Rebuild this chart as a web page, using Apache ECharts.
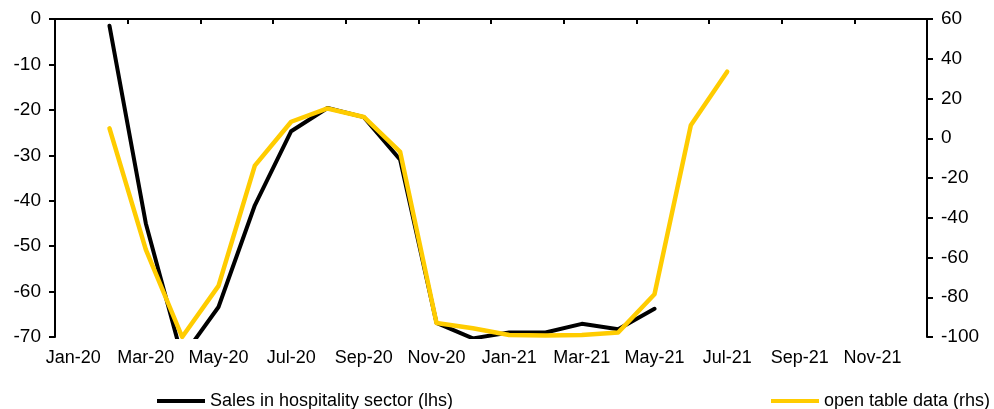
<!DOCTYPE html>
<html>
<head>
<meta charset="utf-8">
<script src="https://cdn.jsdelivr.net/npm/echarts@6/dist/echarts.min.js"></script>
<style>
html,body{margin:0;padding:0;background:#fff;}
#chart{width:994px;height:409px;}
</style>
</head>
<body>
<div id="chart"></div>
<script>
// Monthly categories
var categories = ['Jan-20','Feb-20','Mar-20','Apr-20','May-20','Jun-20','Jul-20','Aug-20','Sep-20','Oct-20','Nov-20','Dec-20',
                  'Jan-21','Feb-21','Mar-21','Apr-21','May-21','Jun-21','Jul-21','Aug-21','Sep-21','Oct-21','Nov-21','Dec-21'];
// Sales in hospitality sector (lhs)
var salesHospitality = [null,-1.5,-45,-74.5,-63.4,-41,-24.7,-19.6,-21.6,-31,-66.9,-70.3,
                        -69,-69,-67.1,-68.3,-63.8,null,null,null,null,null,null,null];
// open table data (rhs)
var openTable = [null,5,-56,-100,-74.3,-13.8,8.3,15,10.7,-6.9,-93,-95.6,
                 -99,-99.3,-99,-97.7,-78.5,6.5,33.5,null,null,null,null,null];
var leftTicks = {min:-70, max:0, interval:10};
var rightTicks = {min:-100, max:60, interval:20};
var seriesNames = ['Sales in hospitality sector (lhs)','open table data (rhs)'];

var FONT = 'Liberation Sans, Arial, sans-serif';
var chart = echarts.init(document.getElementById('chart'));
chart.setOption({
  animation:false,
  backgroundColor:'#fff',
  textStyle:{fontFamily:FONT},
  grid:{left:55, right:67, top:19, bottom:72, containLabel:false},
  legend:[
    {data:[seriesNames[0]], left:152, top:387, icon:'rect', itemWidth:48, itemHeight:4,
     textStyle:{fontSize:18, color:'#000', fontFamily:FONT}, itemStyle:{color:'#000'}},
    {data:[seriesNames[1]], left:766, top:387, icon:'rect', itemWidth:48, itemHeight:4,
     textStyle:{fontSize:18, color:'#000', fontFamily:FONT}, itemStyle:{color:'#FFCC00'}}
  ],
  xAxis:[
    {type:'category', data:categories, position:'bottom', boundaryGap:true,
     axisLine:{show:false}, axisTick:{show:false}, splitLine:{show:false},
     axisLabel:{interval:1, fontSize:18, color:'#000', margin:12, fontFamily:FONT}},
    {type:'category', data:categories, position:'top', boundaryGap:true,
     axisLine:{show:true, onZero:false, lineStyle:{color:'#000', width:2}},
     axisTick:{show:true, inside:true, interval:1, length:5, lineStyle:{color:'#000', width:2}},
     axisLabel:{show:false}, splitLine:{show:false}}
  ],
  yAxis:[
    {type:'value', position:'left', min:leftTicks.min, max:leftTicks.max, interval:leftTicks.interval,
     axisLine:{show:true, onZero:false, lineStyle:{color:'#000', width:2}},
     axisTick:{show:true, length:6, lineStyle:{color:'#000', width:2}},
     axisLabel:{fontSize:19, color:'#000', margin:14, fontFamily:FONT},
     splitLine:{show:false}},
    {type:'value', position:'right', min:rightTicks.min, max:rightTicks.max, interval:rightTicks.interval,
     axisLine:{show:true, onZero:false, lineStyle:{color:'#000', width:2}},
     axisTick:{show:true, length:6, lineStyle:{color:'#000', width:2}},
     axisLabel:{fontSize:19, color:'#000', margin:14, fontFamily:FONT},
     splitLine:{show:false}}
  ],
  series:[
    {name:seriesNames[0], type:'line', xAxisIndex:0, yAxisIndex:0, data:salesHospitality,
     symbol:'none', connectNulls:false, clip:true,
     lineStyle:{color:'#000', width:4, cap:'round', join:'round'}, itemStyle:{color:'#000'}},
    {name:seriesNames[1], type:'line', xAxisIndex:0, yAxisIndex:1, data:openTable,
     symbol:'none', connectNulls:false, clip:true,
     lineStyle:{color:'#FFCC00', width:4.5, cap:'round', join:'round'}, itemStyle:{color:'#FFCC00'}}
  ]
});
</script>
</body>
</html>
